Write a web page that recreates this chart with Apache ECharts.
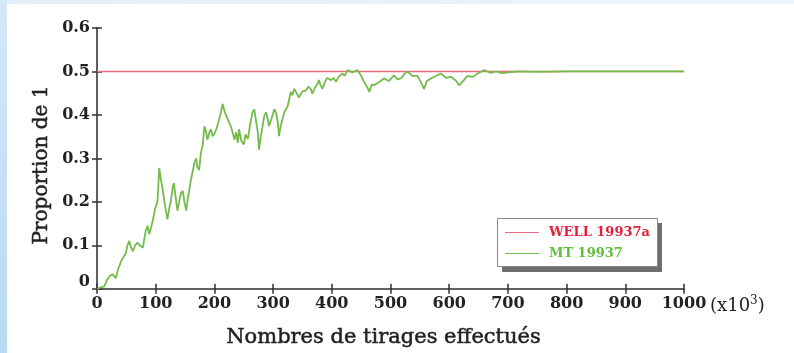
<!DOCTYPE html>
<html>
<head>
<meta charset="utf-8">
<script src="https://cdn.jsdelivr.net/npm/echarts@6/dist/echarts.min.js"></script>
<style>
html,body{margin:0;padding:0;background:#fff;}
#c{position:absolute;left:0;top:0;width:794px;height:353px;
background:linear-gradient(to bottom,#d3e8f9 0,#b7daf4 100%) left top/7px 100% no-repeat,
linear-gradient(to right,#e2effb 0,#eaf4fc 100%) left top/100% 4px no-repeat,#ffffff;}
</style>
</head>
<body>
<div id="c"></div>
<script>
const xTicks = [0,100,200,300,400,500,600,700,800,900,1000];
const yTicks = [0,0.1,0.2,0.3,0.4,0.5,0.6];
const mtX = [0,6,12,17,22,27,32,36,41,44,49,52,55,58,61,65,69,73,78,83,86,89,92,95,99,103,106,109,112,116,120,123,126,129,131,134,137,140,143,146,149,152,155,157,160,163,166,169,171,174,177,180,
183,186,188,192,194,197,200,204,208,211,214,217,220,224,228,232,234,237,240,242,246,250,253,257,261,265,268,271,274,276,279,282,285,288,291,293,297,302,305,308,310,313,316,319,322,325,328,330,333,336,340,344,347,351,356,360,364,367,371,375,378,381,384,388,392,395,399,403,407,412,418,422,427,435,444,450,455,460,464,468,472,480,489,497,506,512,518,524,529,537,546,552,557,562,569,578,586,595,603,612,617,620,625,631,640,648,655,660,670,680,690,700,720,750,800,900,1000];
const mtY = [0,0.003,0.005,0.02,0.03,0.033,0.024,0.045,0.063,0.06,0.082,0.1,0.11,0.095,0.086,0.1,0.106,0.1,0.094,0.133,0.145,0.126,0.14,0.157,0.185,0.2,0.278,0.25,0.227,0.19,0.16,0.185,0.203,0.234,0.243,0.21,0.18,0.2,0.22,0.225,0.2,0.18,0.21,0.225,0.25,0.25,0.29,0.3,0.28,0.273,0.313,0.33,
0.374,0.36,0.343,0.362,0.367,0.351,0.356,0.37,0.39,0.405,0.425,0.41,0.406,0.385,0.374,0.355,0.343,0.36,0.336,0.367,0.34,0.332,0.355,0.345,0.38,0.406,0.413,0.385,0.36,0.32,0.35,0.374,0.398,0.406,0.39,0.374,0.39,0.413,0.405,0.383,0.351,0.375,0.39,0.406,0.413,0.421,0.44,0.453,0.445,0.46,0.45,0.44,0.448,0.455,0.456,0.465,0.46,0.449,0.462,0.47,0.48,0.468,0.46,0.475,0.485,0.488,0.48,0.485,0.476,0.488,0.495,0.49,0.503,0.498,0.503,0.49,0.476,0.465,0.453,0.47,0.468,0.475,0.484,0.478,0.491,0.482,0.484,0.495,0.5,0.49,0.49,0.475,0.46,0.478,0.484,0.49,0.495,0.485,0.488,0.478,0.468,0.465,0.48,0.49,0.487,0.495,0.5,0.503,0.497,0.5,0.496,0.498,0.5,0.499,0.5,0.5,0.5];
const wellX = [0,1000];
const wellY = [0.5,0.5];
const seriesNames = ['WELL 19937a','MT 19937'];

const chart = echarts.init(document.getElementById('c'), null, {renderer:'canvas'});
const serif = '"DejaVu Serif","Liberation Serif",serif';
const axisLine = {show:true, lineStyle:{color:'#555', width:1.5}};
const tick = {show:true, inside:true, length:5, lineStyle:{color:'#333', width:1.5}};
const baseX = {type:'value', min:xTicks[0], max:xTicks[xTicks.length-1], interval:100, splitLine:{show:false}, axisLine:axisLine, axisTick:tick};
const baseY = {type:'value', min:yTicks[0], max:yTicks[yTicks.length-1], interval:0.1, splitLine:{show:false}, axisLine:axisLine, axisTick:tick};

chart.setOption({
  animation:false,
  grid:{left:97, right:110, top:28, bottom:63},
  xAxis:[
    Object.assign({}, baseX, {position:'bottom',
      axisLabel:{fontFamily:serif, fontSize:16, fontWeight:'bold', color:'#222', margin:7,
        formatter:v=>String(v)},
      name:'Nombres de tirages effectués', nameLocation:'middle', nameGap:38,
      nameTextStyle:{fontFamily:serif, fontSize:21, color:'#222', textBorderColor:'#222', textBorderWidth:0.5, padding:[0,14,0,0]}}),
    Object.assign({}, baseX, {position:'top', axisLabel:{show:false}})
  ],
  yAxis:[
    Object.assign({}, baseY, {position:'left',
      axisLabel:{fontFamily:serif, fontSize:16, fontWeight:'bold', color:'#222', margin:7,
        formatter:v=> v===0 ? '{z|0}' : String(Math.round(v*10)/10),
        rich:{z:{fontFamily:serif, fontSize:16, fontWeight:'bold', color:'#222', padding:[0,0,14,0]}}}}),
    Object.assign({}, baseY, {position:'right', axisLabel:{show:false}})
  ],
  legend:{
    orient:'vertical', left:505, top:226, padding:0, itemGap:8, itemWidth:34, itemHeight:12,
    icon:'path://M0,5.5 L34,5.5 L34,6.5 L0,6.5 Z',
    data:[
      {name:seriesNames[0], textStyle:{color:'#e0203a'}},
      {name:seriesNames[1], textStyle:{color:'#5fbf3a'}}
    ],
    textStyle:{fontFamily:serif, fontSize:13, fontWeight:'bold', padding:[0,0,0,5]}
  },
  graphic:[
    {type:'rect', shape:{x:502, y:223, width:160, height:49}, style:{fill:'#6f6f6f'}, z:-1},
    {type:'rect', shape:{x:497.5, y:218.5, width:160, height:48}, style:{fill:'#fff', stroke:'#888', lineWidth:1}, z:-1},
    {type:'text', left:710, top:295,
     style:{
      text:'{a|(x10}{s|3}{a|)}',
      rich:{
        a:{fontFamily:serif, fontSize:18, fill:'#222', verticalAlign:'bottom'},
        s:{fontFamily:serif, fontSize:12, fill:'#222', verticalAlign:'top', padding:[0,0,8,0]}
      }
     }},
    {type:'text', x:42, y:165, rotation:Math.PI/2,
     style:{text:'Proportion de 1', fontFamily:serif, fontSize:20, fill:'#222',
            stroke:'#222', lineWidth:0.5, textAlign:'center', textVerticalAlign:'middle'}}
  ],
  series:[
    {name:seriesNames[0], type:'line', showSymbol:false, symbol:'none',
     data:wellX.map((x,i)=>[x,wellY[i]]),
     lineStyle:{color:'#ea6a82', width:1.5}, itemStyle:{color:'#ea6a82'}, z:2},
    {name:seriesNames[1], type:'line', showSymbol:false, symbol:'none',
     data:mtX.map((x,i)=>[x,mtY[i]]),
     lineStyle:{color:'#74bb4c', width:1.8}, itemStyle:{color:'#74bb4c'}, z:3}
  ]
});
</script>
</body>
</html>
